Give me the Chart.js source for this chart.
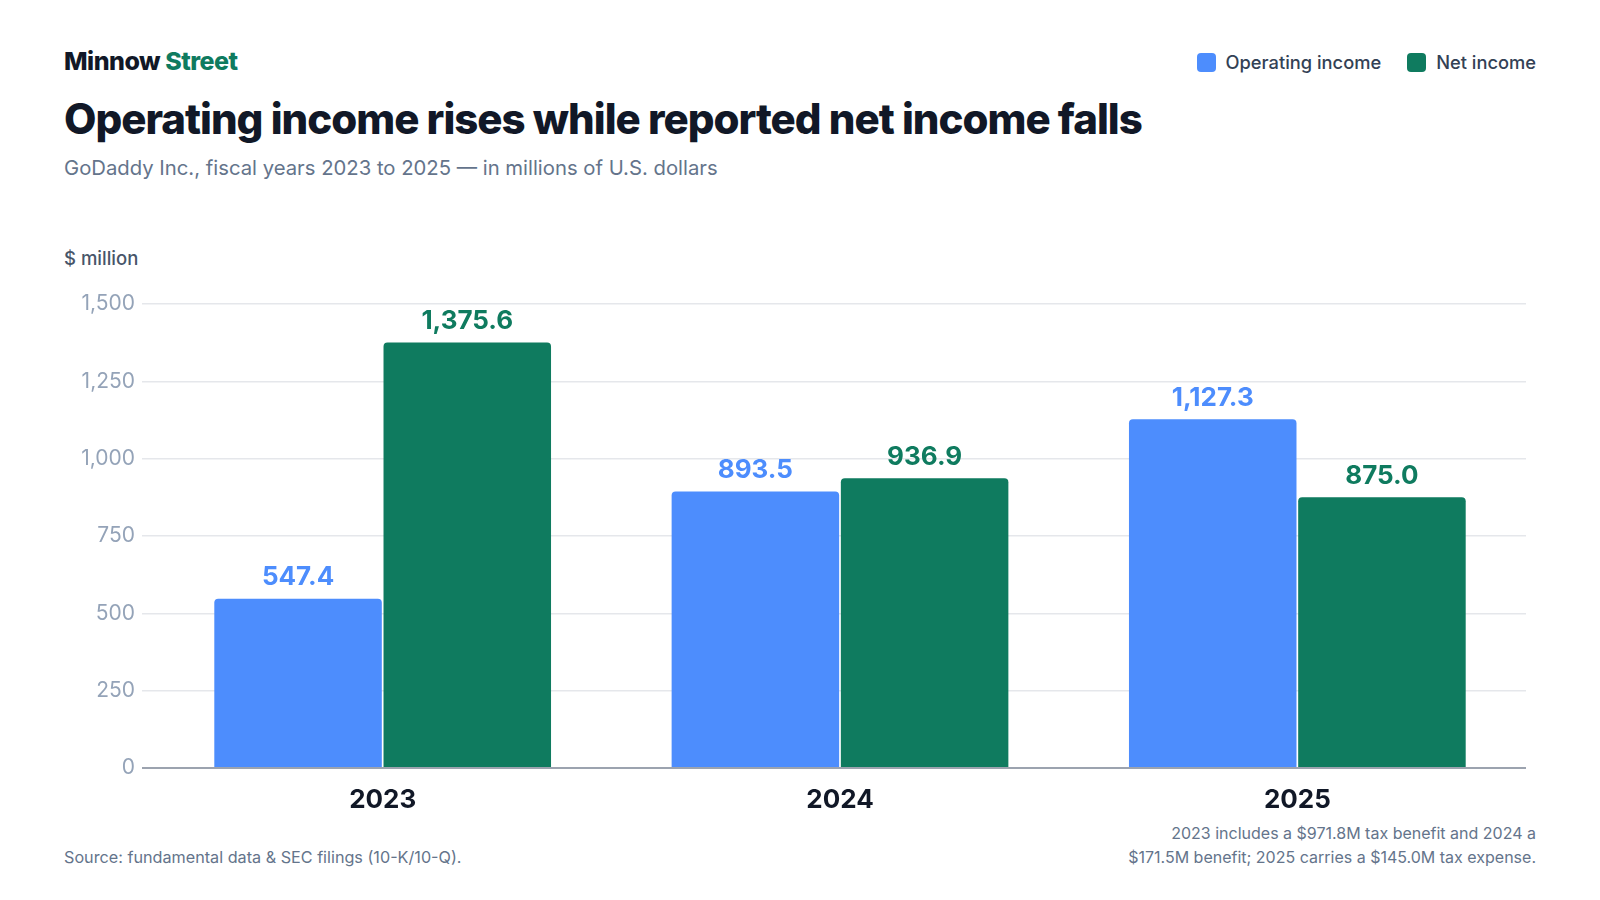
<!DOCTYPE html>
<html>
<head>
<meta charset="utf-8">
<script src="https://cdn.jsdelivr.net/npm/chart.js@4"></script>
<style>
  html, body { margin: 0; padding: 0; background: #fff; }
  body { width: 1600px; height: 900px; position: relative; font-family: Inter, "Noto Sans", sans-serif; overflow: hidden; }
  .brand { position: absolute; left: 64px; top: 46px; font-size: 25px; font-weight: 800; color: #111827; letter-spacing: -0.5px; }
  .brand span { color: #0f7b5f; }
  h1 { position: absolute; left: 64px; top: 93px; margin: 0; font-size: 42px; font-weight: 800; color: #111827; letter-spacing: -1px; }
  .sub { position: absolute; left: 64px; top: 155px; font-size: 20.3px; color: #64748b; }
  .legend { position: absolute; right: 64px; top: 51px; display: flex; gap: 26px; font-size: 18.3px; color: #334155; font-weight: 500; }
  .legend div { display: flex; align-items: center; gap: 10px; }
  .legend i { display: inline-block; width: 19px; height: 19px; border-radius: 4px; }
  .ytitle { position: absolute; left: 64px; top: 247px; font-size: 18.5px; font-weight: 500; color: #475569; }
  .wrap { position: absolute; left: 64px; top: 282px; width: 1472px; height: 539px; }
  .source { position: absolute; left: 64px; top: 847px; font-size: 16.2px; color: #64748b; }
  .note { position: absolute; right: 64px; top: 821px; font-size: 16px; color: #64748b; text-align: right; line-height: 24px; }
</style>
</head>
<body>
<div class="brand">Minnow <span>Street</span></div>
<div class="legend">
  <div><i style="background:#4d8dfd"></i>Operating income</div>
  <div><i style="background:#0f7b5f"></i>Net income</div>
</div>
<h1>Operating income rises while reported net income falls</h1>
<div class="sub">GoDaddy Inc., fiscal years 2023 to 2025 — in millions of U.S. dollars</div>
<div class="ytitle">$ million</div>
<div class="wrap"><canvas id="incomeChart"></canvas></div>
<div class="source">Source: fundamental data &amp; SEC filings (10-K/10-Q).</div>
<div class="note">2023 includes a $971.8M tax benefit and 2024 a<br>$171.5M benefit; 2025 carries a $145.0M tax expense.</div>

<script>
// data
var years = ['2023', '2024', '2025'];
var operatingIncome = [547.4, 893.5, 1127.3];
var netIncome = [1375.6, 936.9, 875.0];
var yTicks = [0, 250, 500, 750, 1000, 1250, 1500];

var blue = '#4d8dfd';
var green = '#0f7b5f';

function fmt(v) {
    return v.toLocaleString('en-US', { minimumFractionDigits: 1, maximumFractionDigits: 1 });
}

// value labels above bars
var barLabels = {
    id: 'barLabels',
    afterDatasetsDraw: function (chart) {
        var ctx = chart.ctx;
        ctx.save();
        ctx.font = '700 26px Inter, sans-serif';
        ctx.textAlign = 'center';
        ctx.textBaseline = 'bottom';
        chart.data.datasets.forEach(function (ds, i) {
            chart.getDatasetMeta(i).data.forEach(function (bar, j) {
                ctx.fillStyle = ds.backgroundColor;
                ctx.fillText(fmt(ds.data[j]), bar.x, bar.y - 8);
            });
        });
        ctx.restore();
    }
};

var ctx1 = document.getElementById('incomeChart').getContext('2d');
var incomeChart = new Chart(ctx1, {
    type: 'bar',
    data: {
        labels: years,
        datasets: [{
            label: 'Operating income',
            data: operatingIncome,
            backgroundColor: blue,
            borderRadius: { topLeft: 4, topRight: 4 },
            borderSkipped: 'bottom',
            categoryPercentage: 0.74,
            barPercentage: 0.99
        }, {
            label: 'Net income',
            data: netIncome,
            backgroundColor: green,
            borderRadius: { topLeft: 4, topRight: 4 },
            borderSkipped: 'bottom',
            categoryPercentage: 0.74,
            barPercentage: 0.99
        }]
    },
    options: {
        responsive: true,
        maintainAspectRatio: false,
        animation: false,
        layout: { padding: { top: 22, right: 10, left: 0, bottom: 0 } },
        scales: {
            x: {
                grid: { display: false },
                border: { display: false },
                ticks: {
                    color: '#111827',
                    font: { family: 'Inter', size: 26, weight: '700' },
                    padding: 9
                },
                afterFit: function (scale) { scale.height = 53; }
            },
            y: {
                min: 0,
                max: 1500,
                afterBuildTicks: function (scale) {
                    scale.ticks = yTicks.map(function (v) { return { value: v }; });
                },
                ticks: {
                    color: '#94a3b8',
                    font: { family: 'Inter', size: 21 },
                    padding: 7,
                    callback: function (v) { return v.toLocaleString('en-US'); }
                },
                grid: {
                    color: function (c) { return c.tick && c.tick.value === 0 ? '#9ca3af' : '#e5e7eb'; },
                    lineWidth: function (c) { return c.tick && c.tick.value === 0 ? 2 : 1.5; },
                    tickLength: 12,
                    drawTicks: true
                },
                border: { display: false },
                afterFit: function (scale) { scale.width = 90; }
            }
        },
        plugins: {
            legend: { display: false },
            tooltip: { enabled: false }
        }
    },
    plugins: [barLabels]
});
</script>
</body>
</html>
